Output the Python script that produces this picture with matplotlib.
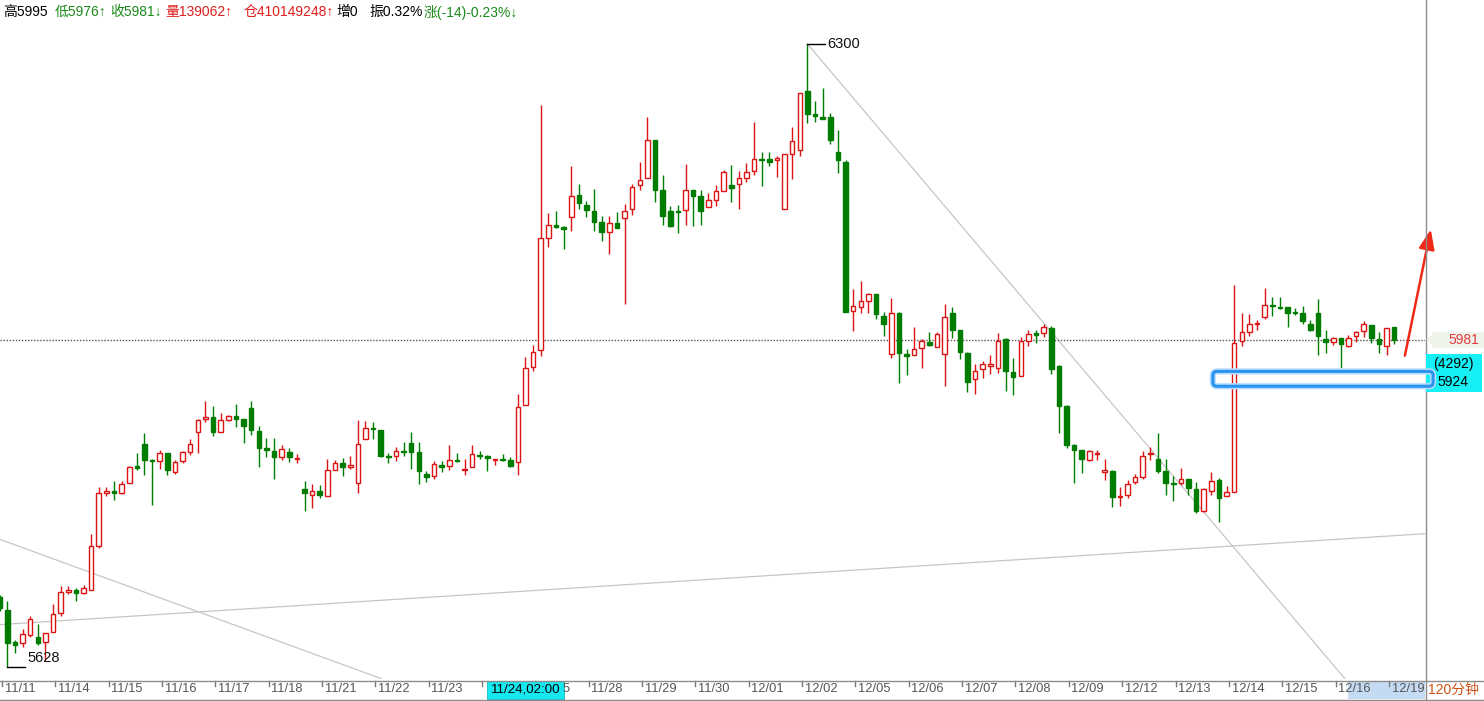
import numpy as np
import matplotlib
matplotlib.use('Agg')
import matplotlib.pyplot as plt
from matplotlib.patches import Rectangle, FancyBboxPatch, Polygon
from matplotlib.lines import Line2D
import matplotlib.transforms as mtransforms

plt.rcParams['font.family'] = ['Liberation Sans', 'Noto Sans CJK SC', 'DejaVu Sans']

# ---------------- data (120-minute bars) ----------------
opens = [
    5704, 5690, 5655, 5654, 5663, 5661, 5655, 5666, 5686, 5709,
    5711, 5708, 5711, 5759, 5816, 5818, 5816, 5827, 5845, 5869,
    5852, 5850, 5859, 5839, 5850, 5860, 5882, 5896, 5898, 5882,
    5895, 5899, 5896, 5908, 5883, 5864, 5861, 5855, 5860, 5853,
    5820, 5814, 5818, 5813, 5841, 5848, 5844, 5827, 5874, 5886,
    5884, 5856, 5856, 5861, 5870, 5860, 5836, 5834, 5846, 5845,
    5852, 5841, 5844, 5857, 5856, 5852, 5853, 5852, 5849, 5911,
    5952, 5970, 6091, 6105, 6103, 6113, 6137, 6126, 6120, 6108,
    6097, 6107, 6112, 6122, 6148, 6155, 6196, 6143, 6120, 6120,
    6121, 6143, 6136, 6124, 6132, 6142, 6148, 6149, 6156, 6163,
    6176, 6176, 6175, 6122, 6181, 6186, 6249, 6225, 6221, 6221,
    6184, 6173, 6012, 6016, 6023, 6030, 6007, 5966, 6010, 5966,
    5965, 5972, 5979, 5973, 5966, 6010, 5992, 5967, 5939, 5950,
    5953, 5951, 5982, 5946, 5942, 5980, 5988, 5988, 5994, 5953,
    5910, 5868, 5862, 5852, 5858, 5839, 5840, 5812, 5814, 5828,
    5833, 5858, 5853, 5840, 5827, 5827, 5831, 5820, 5797, 5818,
    5830, 5813, 5817, 5980, 5989, 5998, 6006, 6019, 6016, 6016,
    6011, 6010, 5998, 6010, 5982, 5979, 5983, 5974, 5985, 5991,
    5997, 5982, 5974, 5995]
highs = [
    5706, 5699, 5657, 5669, 5683, 5675, 5665, 5696, 5716, 5716,
    5713, 5717, 5772, 5822, 5822, 5829, 5829, 5845, 5859, 5881,
    5853, 5862, 5859, 5851, 5861, 5874, 5896, 5915, 5910, 5902,
    5900, 5912, 5896, 5915, 5888, 5875, 5875, 5868, 5864, 5858,
    5829, 5826, 5825, 5853, 5851, 5854, 5856, 5895, 5894, 5892,
    5884, 5859, 5866, 5871, 5882, 5871, 5840, 5850, 5850, 5868,
    5859, 5853, 5868, 5861, 5857, 5853, 5858, 5855, 5923, 5963,
    5975, 6234, 6118, 6120, 6104, 6168, 6149, 6131, 6144, 6114,
    6114, 6119, 6128, 6149, 6173, 6221, 6196, 6159, 6125, 6126,
    6171, 6143, 6143, 6139, 6148, 6164, 6170, 6163, 6172, 6216,
    6183, 6183, 6179, 6181, 6211, 6247, 6300, 6239, 6253, 6226,
    6207, 6175, 6036, 6044, 6032, 6030, 6011, 6026, 6011, 5971,
    5995, 5982, 5989, 5989, 6020, 6016, 5992, 5968, 5955, 5958,
    5965, 5988, 5983, 5961, 5984, 5992, 5992, 5998, 5996, 5954,
    5911, 5869, 5862, 5862, 5862, 5853, 5841, 5822, 5830, 5836,
    5861, 5866, 5881, 5853, 5834, 5843, 5831, 5828, 5821, 5839,
    5832, 5823, 6040, 6010, 6009, 6002, 6037, 6027, 6027, 6016,
    6015, 6018, 6002, 6025, 5992, 5984, 5983, 5986, 5991, 6001,
    5997, 5990, 5994, 5995]
lows = [
    5689, 5628, 5643, 5650, 5661, 5652, 5636, 5666, 5683, 5707,
    5700, 5707, 5711, 5757, 5813, 5808, 5815, 5827, 5841, 5835,
    5803, 5842, 5835, 5836, 5848, 5857, 5859, 5892, 5877, 5882,
    5894, 5887, 5870, 5878, 5844, 5855, 5831, 5851, 5849, 5848,
    5796, 5800, 5810, 5813, 5841, 5834, 5842, 5816, 5874, 5874,
    5855, 5848, 5850, 5856, 5842, 5826, 5828, 5831, 5839, 5841,
    5849, 5835, 5844, 5853, 5840, 5846, 5850, 5844, 5835, 5911,
    5947, 5964, 6081, 6102, 6079, 6098, 6122, 6113, 6098, 6088,
    6074, 6102, 6020, 6116, 6143, 6155, 6130, 6105, 6103, 6096,
    6105, 6104, 6105, 6124, 6125, 6142, 6130, 6122, 6151, 6159,
    6147, 6168, 6157, 6122, 6154, 6179, 6215, 6216, 6219, 6192,
    6161, 6011, 5991, 6010, 6010, 6003, 5985, 5961, 5934, 5943,
    5965, 5951, 5974, 5973, 5931, 5983, 5960, 5925, 5923, 5940,
    5944, 5945, 5926, 5922, 5942, 5974, 5978, 5984, 5944, 5881,
    5864, 5827, 5837, 5850, 5852, 5830, 5801, 5802, 5810, 5826,
    5831, 5852, 5837, 5814, 5807, 5825, 5814, 5794, 5795, 5814,
    5785, 5813, 5817, 5974, 5985, 5992, 6003, 6007, 6014, 5995,
    6008, 5998, 5991, 5965, 5967, 5975, 5951, 5973, 5979, 5984,
    5978, 5967, 5965, 5976]
closes = [
    5692, 5654, 5652, 5664, 5680, 5654, 5665, 5685, 5709, 5711,
    5708, 5713, 5759, 5816, 5818, 5816, 5826, 5844, 5843, 5851,
    5850, 5859, 5841, 5849, 5860, 5869, 5895, 5898, 5882, 5895,
    5899, 5896, 5888, 5884, 5864, 5862, 5855, 5863, 5855, 5854,
    5816, 5818, 5814, 5841, 5848, 5844, 5846, 5869, 5886, 5885,
    5856, 5855, 5861, 5860, 5860, 5840, 5833, 5847, 5844, 5851,
    5850, 5842, 5858, 5856, 5854, 5853, 5852, 5845, 5909, 5951,
    5968, 6091, 6105, 6103, 6100, 6136, 6129, 6121, 6108, 6097,
    6107, 6102, 6120, 6146, 6153, 6196, 6143, 6114, 6104, 6119,
    6143, 6136, 6120, 6132, 6141, 6162, 6145, 6155, 6162, 6176,
    6175, 6173, 6177, 6181, 6195, 6247, 6225, 6222, 6219, 6196,
    6175, 6011, 6018, 6023, 6030, 6009, 5998, 6010, 5967, 5964,
    5971, 5980, 5975, 5987, 6006, 5992, 5968, 5936, 5947, 5955,
    5955, 5980, 5947, 5941, 5980, 5987, 5986, 5995, 5950, 5910,
    5868, 5862, 5853, 5861, 5859, 5841, 5812, 5813, 5826, 5833,
    5856, 5859, 5840, 5827, 5826, 5831, 5821, 5796, 5820, 5829,
    5811, 5817, 5978, 5989, 5998, 5999, 6019, 6018, 6015, 6010,
    6010, 6001, 5992, 5985, 5979, 5983, 5977, 5983, 5989, 5998,
    5983, 5976, 5994, 5981]

days = ['11/11', '11/14', '11/15', '11/16', '11/17', '11/18', '11/21', '11/22',
        '11/23', '11/24', '11/25', '11/28', '11/29', '11/30', '12/01', '12/02',
        '12/05', '12/06', '12/07', '12/08', '12/09', '12/12', '12/13', '12/14',
        '12/15', '12/16', '12/19']
bars_per_day = [7] * 26 + [2]

# drawn trend lines (bar index, price)
trend_lines = [((106, 6300), (176.5, 5616)),
               ((0, 5766), (50, 5616)),
               ((0, 5674), (187, 5772))]

header = [('高5995', '#000000'), ('低5976↑', '#1a8a1a'), ('收5981↓', '#1a8a1a'),
          ('量139062↑', '#e01c1c'), ('仓410149248↑', '#e01c1c'), ('增0', '#000000'),
          ('振0.32%', '#000000'), ('涨(-14)-0.23%↓', '#1a8a1a')]
header_x = [3, 55, 110, 165, 244, 336, 369, 424]

cursor_bar = 69
cursor_label = '11/24,02:00'
cursor_volume = '(4292)'
cursor_price = '5924'
zone = (159.2, 188.1, 5931, 5947)
arrow = ((184.4, 5964), (187.8, 6100))

# ---------------- figure ----------------
W, H = 1484, 701
fig = plt.figure(figsize=(W / 100, H / 100), dpi=100)
fig.patch.set_facecolor('white')


def fx(px):
    return px / W


def fy(py):
    return 1 - py / H


ax = fig.add_axes([0, fy(680), fx(1425), 680 / H])
ax.set_xlim(0.04, 187.04)
ax.set_ylim(5614.3, 6347.4)
ax.axis('off')

o = np.array(opens, float)
h = np.array(highs, float)
l = np.array(lows, float)
c = np.array(closes, float)
x = np.arange(len(o))
up = c >= o
RED = '#dc1414'
GREEN = '#007d00'
col = np.where(up, RED, GREEN)
face = np.where(up, 'white', GREEN)

# trend lines and last-price dotted line
for (x0, y0), (x1, y1) in trend_lines:
    ax.plot([x0, x1], [y0, y1], color='#c6c6c6', lw=0.9, zorder=1)
ax.axhline(c[-1], color='#555555', lw=1.0, ls=(0, (1, 1.2)), zorder=1.5)

# candles
ax.vlines(x, l, h, colors=col, lw=1.0, zorder=2)
body_lo = np.minimum(o, c)
body_h = np.maximum(np.abs(c - o), 0.9)
ax.bar(x, body_h, bottom=body_lo, width=0.6, color=list(face),
       edgecolor=list(col), linewidth=1.0, zorder=3)

# high / low labels
ih = int(np.argmax(h))
il = int(np.argmin(l))
ax.plot([ih, ih + 2.35], [h[ih], h[ih]], color='black', lw=1.0, zorder=4)
ax.annotate(f'{int(h[ih])}', xy=(ih, h[ih]), xytext=(20, 0), textcoords='offset pixels',
            ha='left', va='center', fontsize=10.5, color='#111111')
ax.plot([il, il + 2.35], [l[il], l[il]], color='black', lw=1.0, zorder=4)
ax.annotate(f'{int(l[il])}', xy=(il, l[il]), xytext=(20, 9), textcoords='offset pixels',
            ha='left', va='center', fontsize=10.5, color='#111111')

# arrow
ax.annotate('', xy=arrow[1], xytext=arrow[0], annotation_clip=False,
            arrowprops=dict(arrowstyle='-|>,head_length=1.0,head_width=0.4',
                            color='#f02818', lw=1.8, shrinkA=0, shrinkB=0,
                            mutation_scale=12, clip_on=False))

# blue zone box (display coords derived from data)
(zx0, zy0) = ax.transData.transform((zone[0], zone[2]))
(zx1, zy1) = ax.transData.transform((zone[1], zone[3]))
for lw_, ec_ in [(4.5, '#b7dcff'), (2.2, '#2a93f0')]:
    fig.add_artist(FancyBboxPatch((zx0, zy0), zx1 - zx0, zy1 - zy0,
                                  boxstyle='round,pad=0,rounding_size=4',
                                  transform=mtransforms.IdentityTransform(),
                                  facecolor='none', edgecolor=ec_, lw=lw_, zorder=6))

# frame lines
GREY = '#8c8c8c'
fig.add_artist(Line2D([0, 1], [fy(680.5), fy(680.5)], color=GREY, lw=1))
fig.add_artist(Line2D([0, 1], [fy(699.5), fy(699.5)], color=GREY, lw=1))
fig.add_artist(Line2D([fx(1425.5), fx(1425.5)], [0, 1], color=GREY, lw=1))

# x axis date labels
blend = mtransforms.blended_transform_factory(ax.transData, fig.transFigure)
ax.add_patch(Rectangle((176.9, fy(699)), 187.04 - 176.9, fy(681) - fy(699),
                       transform=blend, facecolor='#c5dbf3', edgecolor='none',
                       clip_on=False, zorder=1))

# cursor label on x axis (covers the labels beneath it)
cw = 38.5 / 7.62
cur_left, cur_right = cursor_bar - cw, cursor_bar + cw
ax.add_patch(Rectangle((cur_left, fy(699)), 2 * cw, fy(681) - fy(699),
                       transform=blend, facecolor='#16e8f0', edgecolor='#0fb9c4',
                       lw=0.6, clip_on=False, zorder=5))
ax.text(cursor_bar, fy(690), cursor_label, transform=blend, fontsize=9.6,
        color='black', ha='center', va='center', zorder=6)
left_disp = ax.transData.transform((cur_left, 0))[0]
right_disp = ax.transData.transform((cur_right, 0))[0]

renderer = fig.canvas.get_renderer()
LBL = dict(fontsize=9.3, color='#555555', ha='left', va='center', zorder=2)


def text_width(s):
    if not s:
        return 0.0
    t = fig.text(0, 0, s, fontsize=LBL['fontsize'])
    w = t.get_window_extent(renderer).width
    t.remove()
    return w


starts = np.cumsum([0] + bars_per_day[:-1])
for d, s in zip(days, starts):
    ax.add_line(Line2D([s + 0.3, s + 0.3], [fy(681), fy(686)], transform=blend,
                       color='#777777', lw=1, clip_on=False))
    x0_disp = ax.transData.transform((s + 0.65, 0))[0]
    x1_disp = x0_disp + text_width(d)
    if x1_disp < left_disp - 1 or x0_disp > right_disp:
        ax.text(s + 0.65, fy(689.5), d, transform=blend, **LBL)
        continue
    # label partly under the cursor box: keep only the characters right of it
    for k in range(len(d)):
        xk = x0_disp + text_width(d[:k])
        if xk >= right_disp - 2:
            fig.text(xk / W, fy(689.5), d[k:], **LBL)
            break

# right panel: last price tag
lp_y = ax.transData.transform((0, c[-1]))[1]
lp_py = H - lp_y
fig.add_artist(Polygon([[fx(1427), fy(lp_py)], [fx(1434), fy(lp_py - 8)],
                        [fx(1484), fy(lp_py - 8)], [fx(1484), fy(lp_py + 8)],
                        [fx(1434), fy(lp_py + 8)]], closed=True,
                       facecolor='#eef4ec', edgecolor='none', zorder=3))
fig.text(fx(1479), fy(lp_py), f'{int(c[-1])}', color='#e03a3a', fontsize=10,
         ha='right', va='center', zorder=4)

# right panel: cursor price box
fig.add_artist(Rectangle((fx(1426), fy(392)), fx(1482) - fx(1426), fy(354) - fy(392),
                         facecolor='#16f0f5', edgecolor='none', zorder=3))
fig.text(fx(1453), fy(364.5), cursor_volume, color='black', fontsize=10,
         ha='center', va='center', zorder=4)
fig.text(fx(1453), fy(382.5), cursor_price, color='black', fontsize=10,
         ha='center', va='center', zorder=4)

# period label
fig.text(fx(1428), fy(690), '120分钟', color='#cc5014', fontsize=10,
         ha='left', va='center')

# header
for (s, colr), px in zip(header, header_x):
    fig.text(fx(px), fy(12), s, color=colr, fontsize=10, ha='left', va='center')

fig.savefig('out.png', dpi=100, facecolor='white')
